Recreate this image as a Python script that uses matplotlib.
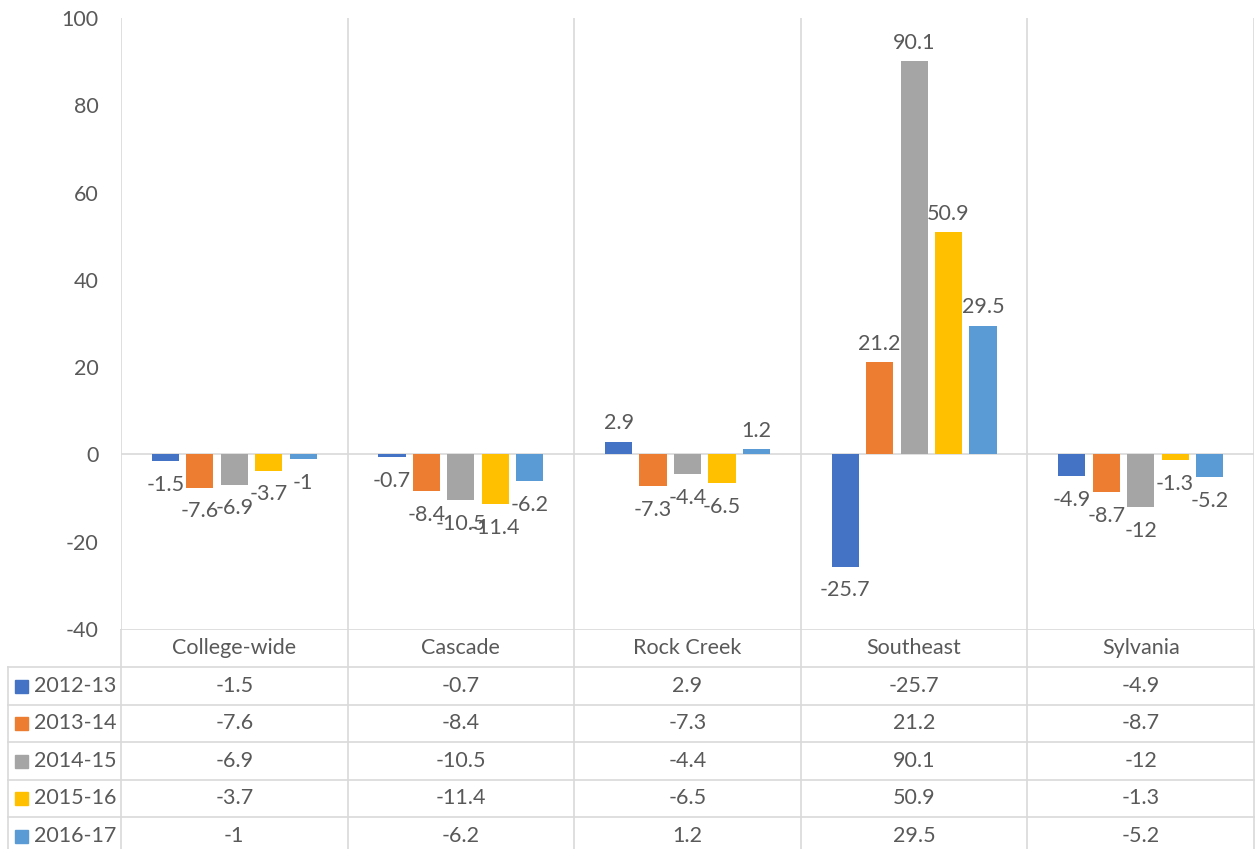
import numpy as np
import matplotlib.pyplot as plt

plt.rcParams['font.family'] = ['Lato', 'DejaVu Sans']
plt.rcParams['axes.unicode_minus'] = False

# Data
campuses = ["College-wide", "Cascade", "Rock Creek", "Southeast", "Sylvania"]
years = ["2012-13", "2013-14", "2014-15", "2015-16", "2016-17"]
v_2012 = [-1.5, -0.7, 2.9, -25.7, -4.9]
v_2013 = [-7.6, -8.4, -7.3, 21.2, -8.7]
v_2014 = [-6.9, -10.5, -4.4, 90.1, -12]
v_2015 = [-3.7, -11.4, -6.5, 50.9, -1.3]
v_2016 = [-1, -6.2, 1.2, 29.5, -5.2]
series = [v_2012, v_2013, v_2014, v_2015, v_2016]
colors = ["#4472C4", "#ED7D31", "#A5A5A5", "#FFC000", "#5B9BD5"]

txt = "#595959"
grid = "#D9D9D9"
fs = 15.5

W, H = 1257, 849
fig = plt.figure(figsize=(W / 100, H / 100), dpi=100)

left, right, top, bottom = 121, 1254, 18, 629
ax = fig.add_axes([left / W, 1 - bottom / H, (right - left) / W, (bottom - top) / H])

n = len(campuses)
x = np.arange(n)
pitch = 0.152
width = 0.12
for i, (vals, c) in enumerate(zip(series, colors)):
    bars = ax.bar(x + (i - 2) * pitch, vals, width, color=c, zorder=3)
    pos = ["%g" % v if v >= 0 else "" for v in vals]
    neg = ["%g" % v if v < 0 else "" for v in vals]
    ax.bar_label(bars, labels=pos, padding=6, fontsize=fs, color=txt)
    ax.bar_label(bars, labels=neg, padding=10, fontsize=fs, color=txt)

ax.set_xlim(-0.5, n - 0.5)
ax.set_ylim(-40, 100)
ax.set_yticks(range(-40, 101, 20))
ax.set_xticks([])
ax.tick_params(axis='y', length=0, labelsize=fs, labelcolor=txt, pad=16)
for s in ax.spines.values():
    s.set_visible(False)
for b in np.arange(-0.5, n, 1):
    ax.axvline(b, color=grid, lw=1.2, zorder=1)
ax.axhline(0, color=grid, lw=1.2, zorder=2)

# Data table below the plot
tab = fig.add_axes([0, 0, 1, (H - bottom) / H])
tab.set_xlim(0, W)
tab.set_ylim(H, bottom)
tab.axis('off')

row_h = 37.5
head_h = 38
col_w = (right - left) / n
y_rows = [bottom + head_h + k * row_h for k in range(len(years) + 1)]

# horizontal lines
tab.plot([left, right], [bottom, bottom], color=grid, lw=1.2)
for yy in y_rows:
    tab.plot([8, right], [yy, yy], color=grid, lw=1.2)
# vertical lines
tab.plot([8, 8], [y_rows[0], H], color=grid, lw=1.2)
for k in range(n + 1):
    xx = left + k * col_w
    tab.plot([xx, xx], [bottom, H], color=grid, lw=1.2)

for j, name in enumerate(campuses):
    tab.text(left + (j + 0.5) * col_w, bottom + head_h / 2, name,
             ha='center', va='center', fontsize=fs, color=txt)

for i, (yr, vals, c) in enumerate(zip(years, series, colors)):
    yc = y_rows[i] + row_h / 2
    tab.add_patch(plt.Rectangle((15, yc - 6), 13, 13, color=c))
    tab.text(34, yc, yr, ha='left', va='center', fontsize=fs, color=txt)
    for j, v in enumerate(vals):
        tab.text(left + (j + 0.5) * col_w, yc, "%g" % v,
                 ha='center', va='center', fontsize=fs, color=txt)

fig.savefig("out.png", dpi=100)
